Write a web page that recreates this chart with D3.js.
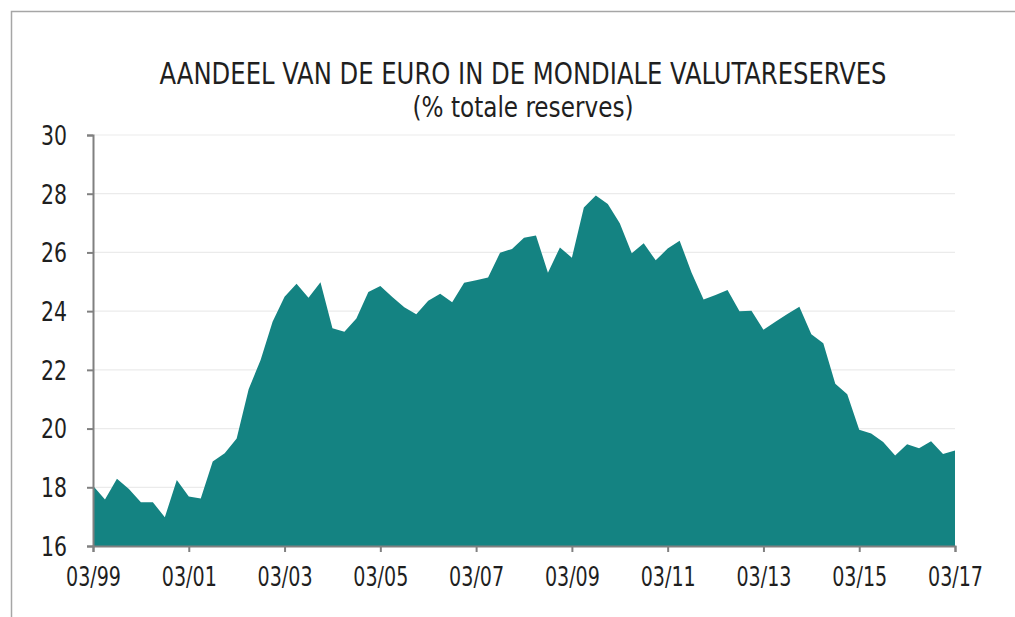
<!DOCTYPE html>
<html lang="nl">
<head>
    <meta charset="UTF-8">
    <title>Aandeel van de euro</title>
    <script src="https://d3js.org/d3.v7.min.js"></script>
    <style>
        body { margin: 0; background: #fff; }
        text { font-family: "Liberation Sans Narrow", "DejaVu Sans Condensed", "Roboto", sans-serif; fill: #1f1f1f; }
    </style>
</head>
<body>
<svg width="1015" height="617"></svg>
<script>

    // quarterly share of the euro, 03/99 .. 03/17
    const shares = [
        18.05, 17.58, 18.29, 17.94, 17.49, 17.49, 16.98, 18.25,
        17.69, 17.62, 18.88, 19.16, 19.66, 21.34, 22.34, 23.64,
        24.49, 24.93, 24.46, 24.98, 23.42, 23.30, 23.75, 24.65,
        24.86, 24.48, 24.13, 23.89, 24.35, 24.59, 24.30, 24.97,
        25.05, 25.15, 25.99, 26.12, 26.50, 26.58, 25.31, 26.17,
        25.82, 27.53, 27.94, 27.65, 26.99, 25.97, 26.31, 25.73,
        26.13, 26.40, 25.31, 24.40, 24.55, 24.72, 24.00, 24.01,
        23.37, 23.64, 23.90, 24.15, 23.21, 22.91, 21.53, 21.17,
        19.96, 19.83, 19.54, 19.08, 19.47, 19.33, 19.57, 19.13,
        19.25
    ];
    const yTicks = [16, 18, 20, 22, 24, 26, 28, 30];
    const xTickLabels = ["03/99", "03/01", "03/03", "03/05", "03/07", "03/09", "03/11", "03/13", "03/15", "03/17"];
    const title = "AANDEEL VAN DE EURO IN DE MONDIALE VALUTARESERVES";
    const subtitle = "(% totale reserves)";

    const mLeft = 93, mRight = 955, mTop = 135, mBottom = 546;

    const svg = d3.select("svg");

    // frame (top and left edges only)
    svg.append("path")
        .attr("d", "M11.5,617V11.5H1015")
        .attr("fill", "none")
        .attr("stroke", "#a6a6a6")
        .attr("stroke-width", 1.5);

    const x = d3.scaleLinear().domain([0, shares.length - 1]).range([mLeft, mRight]);
    const y = d3.scaleLinear().domain([16, 30]).range([mBottom, mTop]);

    // gridlines
    svg.append("g")
        .selectAll("line")
        .data(yTicks.slice(1))
        .enter()
        .append("line")
        .attr("x1", mLeft).attr("x2", mRight)
        .attr("y1", d => y(d)).attr("y2", d => y(d))
        .attr("stroke", "#ebebeb")
        .attr("stroke-width", 1.2);

    const area = d3.area()
        .x((d, i) => x(i))
        .y0(y(16))
        .y1(d => y(d));

    svg.append("path")
        .datum(shares)
        .attr("d", area)
        .attr("fill", "#148382");

    // axes
    const yAxis = d3.axisLeft(y).tickValues(yTicks).tickSize(6).tickPadding(20);
    const gy = svg.append("g").attr("transform", `translate(${mLeft},0)`).call(yAxis);

    const xTickIdx = xTickLabels.map((d, k) => k * 8);
    const xAxis = d3.axisBottom(x).tickValues(xTickIdx)
        .tickFormat((d, k) => xTickLabels[k]).tickSize(6).tickPadding(14);
    const gx = svg.append("g").attr("transform", `translate(0,${mBottom})`).call(xAxis);

    [gx, gy].forEach(g => {
        g.select(".domain").attr("stroke", "#808080").attr("stroke-width", 2);
        g.selectAll(".tick line").attr("stroke", "#808080").attr("stroke-width", 2);
        g.selectAll(".tick text")
            .style("font-family", '"Liberation Sans Narrow", "DejaVu Sans Condensed", sans-serif')
            .style("font-size", "26px")
            .attr("lengthAdjust", "spacingAndGlyphs")
            .attr("fill", "#1f1f1f");
    });
    gy.selectAll(".tick text").attr("dy", "0.36em").attr("textLength", 26);
    gx.selectAll(".tick text").attr("dy", "0.76em").attr("textLength", 55);

    svg.append("text")
        .attr("x", 523).attr("y", 84)
        .attr("text-anchor", "middle")
        .attr("textLength", 727)
        .attr("lengthAdjust", "spacingAndGlyphs")
        .style("font-size", "30px")
        .text(title);

    svg.append("text")
        .attr("x", 523).attr("y", 117)
        .attr("text-anchor", "middle")
        .attr("textLength", 221)
        .attr("lengthAdjust", "spacingAndGlyphs")
        .style("font-size", "28px")
        .text(subtitle);

</script>
</body>
</html>
